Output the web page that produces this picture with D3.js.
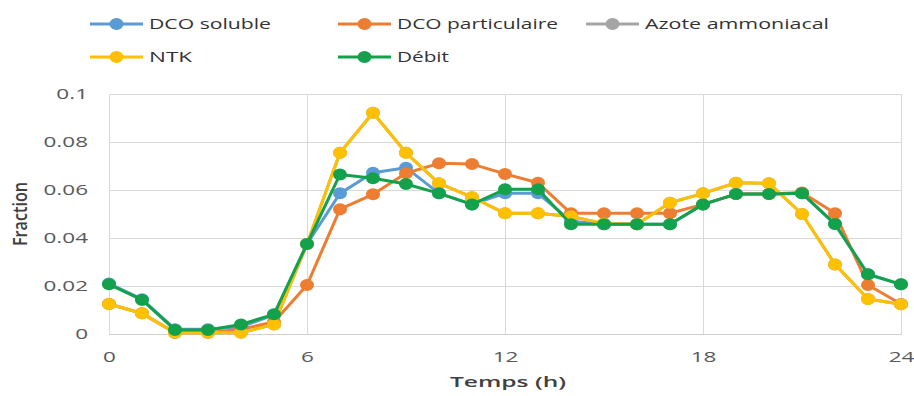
<!DOCTYPE html>
<html><head><meta charset="utf-8">
<script src="https://cdn.jsdelivr.net/npm/d3@7"></script>
<style>html,body{margin:0;padding:0;background:#fff;} svg{display:block;}</style>
</head><body><svg id="c" width="914" height="396"></svg>
<script>
// ---- data ----
const hours = [0,1,2,3,4,5,6,7,8,9,10,11,12,13,14,15,16,17,18,19,20,21,22,23,24];
const seriesNames = ["DCO soluble","DCO particulaire","Azote ammoniacal","NTK","Débit"];
const dcoSoluble = [0.021,0.0145,0.002,0.002,0.003,0.008,0.0375,0.0586,0.0672,0.0693,0.0586,0.054,0.0586,0.0586,0.047,0.0457,0.0457,0.0457,0.054,0.0583,0.0583,0.0586,0.0458,0.0249,0.0207];
const dcoParticulaire = [0.0125,0.0086,0.0005,0.0005,0.002,0.005,0.0204,0.052,0.0582,0.067,0.0711,0.0708,0.0667,0.063,0.0503,0.0503,0.0503,0.0503,0.054,0.0583,0.0583,0.059,0.0503,0.0204,0.0125];
const azoteAmmoniacal = [0.0125,0.0086,0.0005,0.0005,0.0005,0.004,0.0375,0.0755,0.0922,0.0755,0.0628,0.057,0.0503,0.0503,0.049,0.046,0.0457,0.0547,0.0586,0.063,0.0628,0.05,0.029,0.0146,0.0124];
const ntk = [0.0125,0.0086,0.0005,0.0005,0.0005,0.004,0.0375,0.0755,0.0922,0.0755,0.0628,0.057,0.0503,0.0503,0.049,0.046,0.0457,0.0547,0.0586,0.063,0.0628,0.05,0.029,0.0146,0.0124];
const debit = [0.0207,0.0142,0.0017,0.0017,0.004,0.0082,0.0375,0.0665,0.0649,0.0625,0.0586,0.054,0.0603,0.0603,0.0457,0.0457,0.0457,0.0457,0.054,0.0583,0.0583,0.0586,0.0458,0.0249,0.0207];
const yTicks = [0,0.02,0.04,0.06,0.08,0.1];
const yTickLabels = ["0","0.02","0.04","0.06","0.08","0.1"];
const xTicks = [0,6,12,18,24];
const xTickLabels = ["0","6","12","18","24"];
const xTitle = "Temps (h)";
const yTitle = "Fraction";

// ---- styles / layout ----
const colors = ["#5b9bd5","#ed7d31","#a5a5a5","#ffc000","#13a24b"];
const seriesValues = [dcoSoluble,dcoParticulaire,azoteAmmoniacal,ntk,debit];
const L = 109, R = 901, T = 94, B = 334;
const svg = d3.select("#c");
const x = d3.scaleLinear().domain([0,24]).range([L,R]);
const y = d3.scaleLinear().domain([0,0.1]).range([B,T]);
const font = "'Open Sans', 'DejaVu Sans', sans-serif";

function stretch(sel,k){
  sel.each(function(){
    const w = this.getComputedTextLength();
    this.setAttribute("textLength", w*k);
    this.setAttribute("lengthAdjust","spacingAndGlyphs");
  });
}

// y axis with grid
const gy = svg.append("g").attr("transform",`translate(${L},0)`)
  .call(d3.axisLeft(y).tickValues(yTicks).tickSize(-(R-L)).tickPadding(21)
    .tickFormat((d,i)=>yTickLabels[i]));
gy.select(".domain").remove();
gy.selectAll(".tick line").attr("stroke","#d9d9d9").attr("stroke-width",1);
gy.selectAll(".tick text").attr("font-family",font).attr("font-size",15).attr("fill","#595959");
stretch(gy.selectAll(".tick text"),1.5);

// x axis with grid
const gx = svg.append("g").attr("transform",`translate(0,${B})`)
  .call(d3.axisBottom(x).tickValues(xTicks).tickSize(-(B-T)).tickPadding(17)
    .tickFormat((d,i)=>xTickLabels[i]));
gx.select(".domain").attr("stroke","#d0d0d0");
gx.selectAll(".tick line").attr("stroke","#d9d9d9").attr("stroke-width",1);
gx.selectAll(".tick text").attr("font-family",font).attr("font-size",15).attr("fill","#595959");
stretch(gx.selectAll(".tick text"),1.5);

// series
const line = d3.line().x((d,i)=>x(hours[i])).y(d=>y(d));
seriesValues.forEach((vals,si)=>{
  const g = svg.append("g");
  g.append("path").attr("d",line(vals)).attr("fill","none")
    .attr("stroke",colors[si]).attr("stroke-width",3).attr("stroke-linejoin","round");
  g.selectAll("ellipse").data(vals).join("ellipse")
    .attr("cx",(d,i)=>x(hours[i])).attr("cy",d=>y(d))
    .attr("rx",7).attr("ry",6).attr("fill",colors[si]);
});

// axis titles
const xt = svg.append("text").attr("x",508).attr("y",387).attr("text-anchor","middle")
  .attr("font-family",font).attr("font-size",14).attr("font-weight",600).attr("fill","#404040")
  .text(xTitle);
xt.attr("textLength",116).attr("lengthAdjust","spacingAndGlyphs");
const yt = svg.append("text").attr("transform","translate(20,214) scale(1.45,1) rotate(-90)")
  .attr("text-anchor","middle").attr("dy","0.35em")
  .attr("font-family",font).attr("font-size",14).attr("font-weight",600).attr("fill","#404040")
  .text(yTitle);
yt.attr("textLength",64).attr("lengthAdjust","spacingAndGlyphs");

// legend
const legendPos = [[90,24],[338,24],[586,24],[90,57],[338,57]];
const legendTextW = [122,161,184,43,52];
seriesNames.forEach((name,i)=>{
  const [lx,ly] = legendPos[i];
  const g = svg.append("g");
  g.append("line").attr("x1",lx).attr("x2",lx+53).attr("y1",ly).attr("y2",ly)
    .attr("stroke",colors[i]).attr("stroke-width",3);
  g.append("ellipse").attr("cx",lx+26.5).attr("cy",ly).attr("rx",7).attr("ry",6).attr("fill",colors[i]);
  g.append("text").attr("x",lx+59).attr("y",ly).attr("dy","0.35em")
    .attr("font-family",font).attr("font-size",14).attr("fill","#333")
    .attr("textLength",legendTextW[i]).attr("lengthAdjust","spacingAndGlyphs")
    .text(name);
});
</script></body></html>
